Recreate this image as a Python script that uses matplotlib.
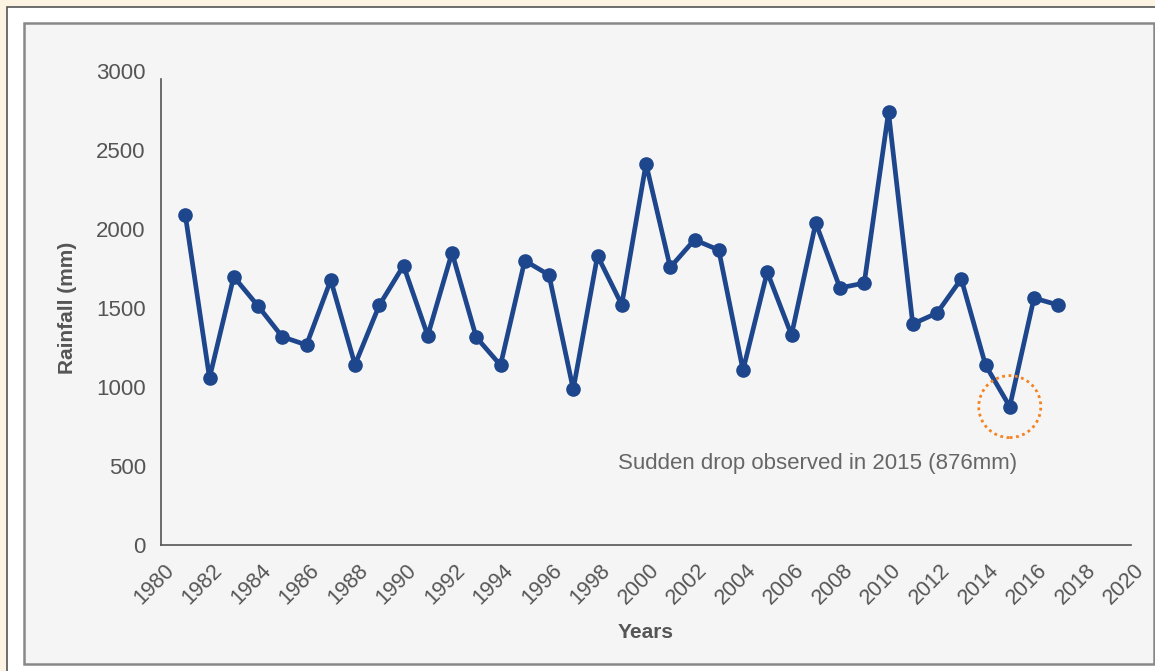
import matplotlib
matplotlib.use("Agg")
import matplotlib.pyplot as plt
from matplotlib.patches import Rectangle, Ellipse
from matplotlib.transforms import ScaledTranslation

years = list(range(1981, 2018))
rainfall = [2091, 1057, 1698, 1513, 1318, 1266, 1677, 1141, 1517, 1768,
            1325, 1850, 1315, 1138, 1800, 1709, 985, 1831, 1521, 2413,
            1757, 1932, 1867, 1106, 1728, 1329, 2038, 1627, 1658, 2741,
            1399, 1468, 1684, 1139, 876, 1563, 1519]
xticks = list(range(1980, 2021, 2))
yticks = [0, 500, 1000, 1500, 2000, 2500, 3000]
highlight_year = 2015
highlight_value = 876
note = "Sudden drop observed in 2015 (876mm)"

plt.rcParams['font.family'] = ['Liberation Sans', 'DejaVu Sans']

W, H = 1155, 671
fig = plt.figure(figsize=(W / 100, H / 100), dpi=100)
fig.patch.set_facecolor('#fdf3e2')

# outer white box
fig.patches.append(Rectangle((7 / W, -0.1), 1.2, 1.1 - 7 / H, transform=fig.transFigure,
                             facecolor='white', edgecolor='#555555', linewidth=1.2, zorder=-3))
# inner gray panel
fig.patches.append(Rectangle((24 / W, 1 - 664 / H), (1154 - 24) / W, (664 - 23) / H,
                             transform=fig.transFigure, facecolor='#f5f5f5',
                             edgecolor='#888888', linewidth=1.8, zorder=-2))

left, right, bottom, top = 161, 1131, 545, 71
ax = fig.add_axes([left / W, 1 - bottom / H, (right - left) / W, (bottom - top) / H])
ax.set_facecolor('none')

line_color = '#1d468c'
ax.plot(years, rainfall, color=line_color, linewidth=3.4, marker='o',
        markersize=9.5, markerfacecolor=line_color, markeredgecolor=line_color,
        solid_joinstyle='round', zorder=3)

ax.set_xlim(1980, 2020)
ax.set_ylim(0, 3000)
ax.set_xticks(xticks)
ax.set_yticks(yticks)
ax.set_xticklabels([str(x) for x in xticks])

for s in ['top', 'right']:
    ax.spines[s].set_visible(False)
for s in ['left', 'bottom']:
    ax.spines[s].set_color('#555555')
    ax.spines[s].set_linewidth(1.2)
ax.spines['left'].set_bounds(0, 2950)

ax.tick_params(axis='both', length=0, colors='#555555')
ax.tick_params(axis='y', labelsize=16, pad=11)
ax.tick_params(axis='x', labelsize=15.5, pad=16)
for lbl in ax.get_xticklabels():
    lbl.set_rotation(45)
    lbl.set_ha('right')
    lbl.set_va('center')
    lbl.set_rotation_mode('anchor')
    lbl.set_transform(lbl.get_transform() + ScaledTranslation(0.10, 0, fig.dpi_scale_trans))

ax.set_ylabel('Rainfall (mm)', fontsize=15, fontweight='bold', color='#555555', labelpad=14)
ax.set_xlabel('Years', fontsize=15, fontweight='bold', color='#555555', labelpad=10)

# highlight circle (62 px diameter)
xs = 24.25  # px per year
ys = (bottom - top) / 3000.0  # px per mm
circ = Ellipse((highlight_year, highlight_value), 62 / xs, 62 / ys, fill=False,
               edgecolor='#f58220', linewidth=2, linestyle=(0, (1, 1.3)), zorder=4)
ax.add_patch(circ)

ax.text(1998.85, 513, note, fontsize=16, color='#666666', ha='left', va='center')

fig.savefig('out.png', dpi=100, facecolor=fig.get_facecolor())
